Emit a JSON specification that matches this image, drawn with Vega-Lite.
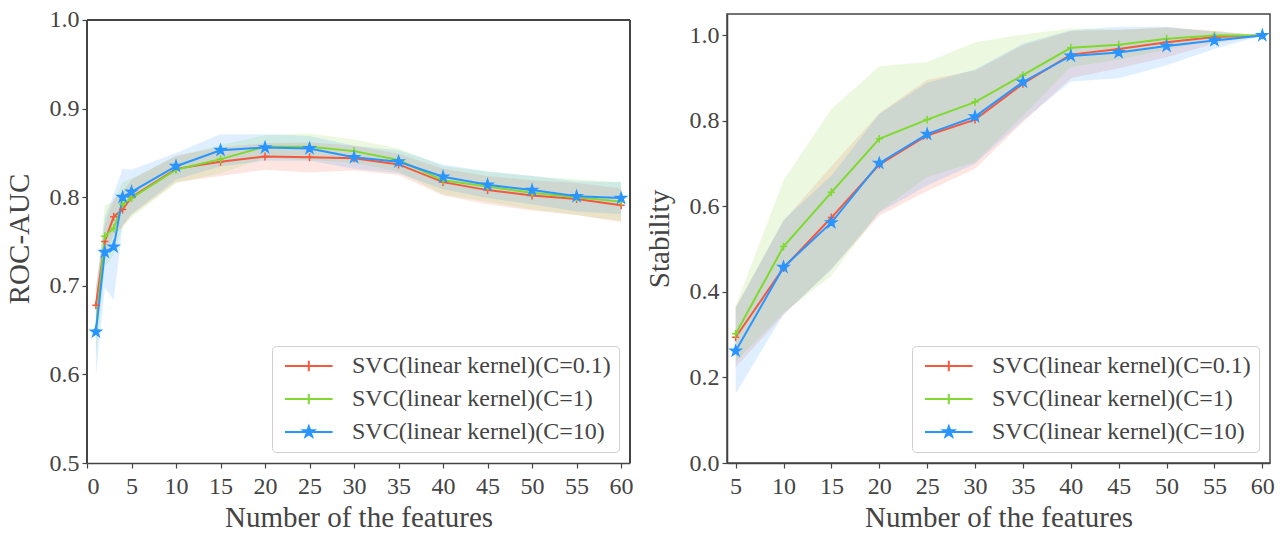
{
  "$schema": "https://vega.github.io/schema/vega-lite/v6.json",
  "background": "white",
  "autosize": {"type": "none"},
  "padding": {"left": 87, "top": 14, "right": 1193, "bottom": 519},
  "spacing": 97,
  "bounds": "flush",
  "datasets": {
    "roc": [
      {"x": 1, "model": "SVC(linear kernel)(C=0.1)", "y": 0.678, "lo": 0.658, "hi": 0.698},
      {"x": 2, "model": "SVC(linear kernel)(C=0.1)", "y": 0.750, "lo": 0.730, "hi": 0.770},
      {"x": 3, "model": "SVC(linear kernel)(C=0.1)", "y": 0.778, "lo": 0.758, "hi": 0.798},
      {"x": 4, "model": "SVC(linear kernel)(C=0.1)", "y": 0.786, "lo": 0.766, "hi": 0.806},
      {"x": 5, "model": "SVC(linear kernel)(C=0.1)", "y": 0.800, "lo": 0.780, "hi": 0.820},
      {"x": 10, "model": "SVC(linear kernel)(C=0.1)", "y": 0.832, "lo": 0.817, "hi": 0.847},
      {"x": 15, "model": "SVC(linear kernel)(C=0.1)", "y": 0.840, "lo": 0.824, "hi": 0.856},
      {"x": 20, "model": "SVC(linear kernel)(C=0.1)", "y": 0.846, "lo": 0.831, "hi": 0.861},
      {"x": 25, "model": "SVC(linear kernel)(C=0.1)", "y": 0.845, "lo": 0.828, "hi": 0.862},
      {"x": 30, "model": "SVC(linear kernel)(C=0.1)", "y": 0.844, "lo": 0.830, "hi": 0.858},
      {"x": 35, "model": "SVC(linear kernel)(C=0.1)", "y": 0.837, "lo": 0.825, "hi": 0.849},
      {"x": 40, "model": "SVC(linear kernel)(C=0.1)", "y": 0.817, "lo": 0.802, "hi": 0.832},
      {"x": 45, "model": "SVC(linear kernel)(C=0.1)", "y": 0.808, "lo": 0.792, "hi": 0.824},
      {"x": 50, "model": "SVC(linear kernel)(C=0.1)", "y": 0.802, "lo": 0.785, "hi": 0.819},
      {"x": 55, "model": "SVC(linear kernel)(C=0.1)", "y": 0.798, "lo": 0.780, "hi": 0.816},
      {"x": 60, "model": "SVC(linear kernel)(C=0.1)", "y": 0.791, "lo": 0.772, "hi": 0.810},
      {"x": 1, "model": "SVC(linear kernel)(C=1)", "y": 0.650, "lo": 0.620, "hi": 0.680},
      {"x": 2, "model": "SVC(linear kernel)(C=1)", "y": 0.756, "lo": 0.721, "hi": 0.791},
      {"x": 3, "model": "SVC(linear kernel)(C=1)", "y": 0.765, "lo": 0.735, "hi": 0.795},
      {"x": 4, "model": "SVC(linear kernel)(C=1)", "y": 0.792, "lo": 0.767, "hi": 0.817},
      {"x": 5, "model": "SVC(linear kernel)(C=1)", "y": 0.799, "lo": 0.777, "hi": 0.821},
      {"x": 10, "model": "SVC(linear kernel)(C=1)", "y": 0.831, "lo": 0.816, "hi": 0.846},
      {"x": 15, "model": "SVC(linear kernel)(C=1)", "y": 0.843, "lo": 0.827, "hi": 0.859},
      {"x": 20, "model": "SVC(linear kernel)(C=1)", "y": 0.857, "lo": 0.844, "hi": 0.870},
      {"x": 25, "model": "SVC(linear kernel)(C=1)", "y": 0.857, "lo": 0.842, "hi": 0.872},
      {"x": 30, "model": "SVC(linear kernel)(C=1)", "y": 0.852, "lo": 0.839, "hi": 0.865},
      {"x": 35, "model": "SVC(linear kernel)(C=1)", "y": 0.842, "lo": 0.829, "hi": 0.855},
      {"x": 40, "model": "SVC(linear kernel)(C=1)", "y": 0.819, "lo": 0.803, "hi": 0.835},
      {"x": 45, "model": "SVC(linear kernel)(C=1)", "y": 0.812, "lo": 0.795, "hi": 0.829},
      {"x": 50, "model": "SVC(linear kernel)(C=1)", "y": 0.805, "lo": 0.786, "hi": 0.824},
      {"x": 55, "model": "SVC(linear kernel)(C=1)", "y": 0.800, "lo": 0.780, "hi": 0.820},
      {"x": 60, "model": "SVC(linear kernel)(C=1)", "y": 0.795, "lo": 0.773, "hi": 0.817},
      {"x": 1, "model": "SVC(linear kernel)(C=10)", "y": 0.648, "lo": 0.598, "hi": 0.698},
      {"x": 2, "model": "SVC(linear kernel)(C=10)", "y": 0.738, "lo": 0.698, "hi": 0.778},
      {"x": 3, "model": "SVC(linear kernel)(C=10)", "y": 0.744, "lo": 0.684, "hi": 0.804},
      {"x": 4, "model": "SVC(linear kernel)(C=10)", "y": 0.800, "lo": 0.768, "hi": 0.832},
      {"x": 5, "model": "SVC(linear kernel)(C=10)", "y": 0.806, "lo": 0.781, "hi": 0.831},
      {"x": 10, "model": "SVC(linear kernel)(C=10)", "y": 0.835, "lo": 0.820, "hi": 0.850},
      {"x": 15, "model": "SVC(linear kernel)(C=10)", "y": 0.853, "lo": 0.835, "hi": 0.871},
      {"x": 20, "model": "SVC(linear kernel)(C=10)", "y": 0.856, "lo": 0.841, "hi": 0.871},
      {"x": 25, "model": "SVC(linear kernel)(C=10)", "y": 0.855, "lo": 0.841, "hi": 0.869},
      {"x": 30, "model": "SVC(linear kernel)(C=10)", "y": 0.845, "lo": 0.832, "hi": 0.858},
      {"x": 35, "model": "SVC(linear kernel)(C=10)", "y": 0.840, "lo": 0.827, "hi": 0.853},
      {"x": 40, "model": "SVC(linear kernel)(C=10)", "y": 0.823, "lo": 0.809, "hi": 0.837},
      {"x": 45, "model": "SVC(linear kernel)(C=10)", "y": 0.814, "lo": 0.799, "hi": 0.829},
      {"x": 50, "model": "SVC(linear kernel)(C=10)", "y": 0.808, "lo": 0.792, "hi": 0.824},
      {"x": 55, "model": "SVC(linear kernel)(C=10)", "y": 0.801, "lo": 0.784, "hi": 0.818},
      {"x": 60, "model": "SVC(linear kernel)(C=10)", "y": 0.799, "lo": 0.781, "hi": 0.817}
    ],
    "stab": [
      {"x": 5, "model": "SVC(linear kernel)(C=0.1)", "y": 0.294, "lo": 0.224, "hi": 0.364},
      {"x": 10, "model": "SVC(linear kernel)(C=0.1)", "y": 0.456, "lo": 0.346, "hi": 0.566},
      {"x": 15, "model": "SVC(linear kernel)(C=0.1)", "y": 0.574, "lo": 0.454, "hi": 0.694},
      {"x": 20, "model": "SVC(linear kernel)(C=0.1)", "y": 0.698, "lo": 0.578, "hi": 0.818},
      {"x": 25, "model": "SVC(linear kernel)(C=0.1)", "y": 0.766, "lo": 0.636, "hi": 0.896},
      {"x": 30, "model": "SVC(linear kernel)(C=0.1)", "y": 0.803, "lo": 0.688, "hi": 0.918},
      {"x": 35, "model": "SVC(linear kernel)(C=0.1)", "y": 0.887, "lo": 0.797, "hi": 0.977},
      {"x": 40, "model": "SVC(linear kernel)(C=0.1)", "y": 0.955, "lo": 0.900, "hi": 1.010},
      {"x": 45, "model": "SVC(linear kernel)(C=0.1)", "y": 0.968, "lo": 0.923, "hi": 1.013},
      {"x": 50, "model": "SVC(linear kernel)(C=0.1)", "y": 0.984, "lo": 0.949, "hi": 1.019},
      {"x": 55, "model": "SVC(linear kernel)(C=0.1)", "y": 0.996, "lo": 0.981, "hi": 1.011},
      {"x": 60, "model": "SVC(linear kernel)(C=0.1)", "y": 1.000, "lo": 1.000, "hi": 1.000},
      {"x": 5, "model": "SVC(linear kernel)(C=1)", "y": 0.302, "lo": 0.237, "hi": 0.367},
      {"x": 10, "model": "SVC(linear kernel)(C=1)", "y": 0.506, "lo": 0.351, "hi": 0.661},
      {"x": 15, "model": "SVC(linear kernel)(C=1)", "y": 0.633, "lo": 0.438, "hi": 0.828},
      {"x": 20, "model": "SVC(linear kernel)(C=1)", "y": 0.758, "lo": 0.588, "hi": 0.928},
      {"x": 25, "model": "SVC(linear kernel)(C=1)", "y": 0.803, "lo": 0.668, "hi": 0.938},
      {"x": 30, "model": "SVC(linear kernel)(C=1)", "y": 0.844, "lo": 0.704, "hi": 0.984},
      {"x": 35, "model": "SVC(linear kernel)(C=1)", "y": 0.907, "lo": 0.812, "hi": 1.002},
      {"x": 40, "model": "SVC(linear kernel)(C=1)", "y": 0.971, "lo": 0.926, "hi": 1.016},
      {"x": 45, "model": "SVC(linear kernel)(C=1)", "y": 0.978, "lo": 0.943, "hi": 1.013},
      {"x": 50, "model": "SVC(linear kernel)(C=1)", "y": 0.992, "lo": 0.967, "hi": 1.017},
      {"x": 55, "model": "SVC(linear kernel)(C=1)", "y": 1.000, "lo": 0.990, "hi": 1.010},
      {"x": 60, "model": "SVC(linear kernel)(C=1)", "y": 1.000, "lo": 1.000, "hi": 1.000},
      {"x": 5, "model": "SVC(linear kernel)(C=10)", "y": 0.262, "lo": 0.162, "hi": 0.362},
      {"x": 10, "model": "SVC(linear kernel)(C=10)", "y": 0.458, "lo": 0.348, "hi": 0.568},
      {"x": 15, "model": "SVC(linear kernel)(C=10)", "y": 0.562, "lo": 0.452, "hi": 0.672},
      {"x": 20, "model": "SVC(linear kernel)(C=10)", "y": 0.701, "lo": 0.586, "hi": 0.816},
      {"x": 25, "model": "SVC(linear kernel)(C=10)", "y": 0.769, "lo": 0.649, "hi": 0.889},
      {"x": 30, "model": "SVC(linear kernel)(C=10)", "y": 0.810, "lo": 0.700, "hi": 0.920},
      {"x": 35, "model": "SVC(linear kernel)(C=10)", "y": 0.891, "lo": 0.801, "hi": 0.981},
      {"x": 40, "model": "SVC(linear kernel)(C=10)", "y": 0.952, "lo": 0.892, "hi": 1.012},
      {"x": 45, "model": "SVC(linear kernel)(C=10)", "y": 0.960, "lo": 0.900, "hi": 1.020},
      {"x": 50, "model": "SVC(linear kernel)(C=10)", "y": 0.975, "lo": 0.930, "hi": 1.020},
      {"x": 55, "model": "SVC(linear kernel)(C=10)", "y": 0.988, "lo": 0.968, "hi": 1.008},
      {"x": 60, "model": "SVC(linear kernel)(C=10)", "y": 1.000, "lo": 1.000, "hi": 1.000}
    ]
  },
  "config": {
    "font": "Liberation Serif",
    "view": {"stroke": "#444444", "strokeWidth": 1.5},
    "axis": {
      "grid": false,
      "domainColor": "#444444",
      "domainWidth": 1.5,
      "tickColor": "#444444",
      "tickSize": 5,
      "tickWidth": 1.2,
      "labelFont": "Liberation Serif",
      "labelFontSize": 24,
      "labelColor": "#444444",
      "labelPadding": 3,
      "titleFont": "Liberation Serif",
      "titleFontSize": 29,
      "titleFontWeight": "normal",
      "titleColor": "#444444"
    },
    "axisX": {"labelPadding": 6, "titlePadding": 5},
    "legend": {
      "orient": "bottom-right",
      "offset": 11,
      "fillColor": "white",
      "strokeColor": "#d0d0d0",
      "cornerRadius": 4,
      "padding": 8,
      "labelFont": "Liberation Serif",
      "labelFontSize": 24,
      "labelColor": "#444444",
      "labelLimit": 0,
      "labelOffset": 48,
      "symbolSize": 196,
      "symbolStrokeWidth": 2,
      "symbolOpacity": 1,
      "rowPadding": 9
    }
  },
  "hconcat": [
    {
      "width": 543,
      "height": 449,
      "data": {"name": "roc"},
      "view": {"stroke": null},
      "encoding": {
        "x": {"field": "x", "type": "quantitative", "scale": {"domain": [0, 61], "nice": false, "zero": false}, "axis": {"values": [0,5,10,15,20,25,30,35,40,45,50,55,60], "title": "Number of the features"}},
        "color": {"field": "model", "type": "nominal", "scale": {"domain": ["SVC(linear kernel)(C=0.1)", "SVC(linear kernel)(C=1)", "SVC(linear kernel)(C=10)"], "range": ["#f4593f", "#7fd92e", "#2a95ff"]}, "legend": {"title": null}}
      },
      "layer": [
        {
          "mark": {"type": "area", "opacity": 0.15},
          "encoding": {
            "y": {"field": "lo", "type": "quantitative", "scale": {"domain": [0.5, 1.00677], "nice": false, "zero": false}, "axis": {"values": [0.5,0.6,0.7,0.8,0.9,1.0], "format": ".1f", "title": "ROC-AUC", "domain": false, "titlePadding": 15}},
            "y2": {"field": "hi"}
          }
        },
        {
          "mark": {"type": "line", "strokeWidth": 2},
          "encoding": {"y": {"field": "y", "type": "quantitative"}}
        },
        {
          "mark": {"type": "point", "filled": true, "opacity": 0, "size": 49},
          "encoding": {
            "y": {"field": "y", "type": "quantitative"},
            "stroke": {"field": "model", "type": "nominal", "scale": {"domain": ["SVC(linear kernel)(C=0.1)", "SVC(linear kernel)(C=1)", "SVC(linear kernel)(C=10)"], "range": ["#f4593f", "#7fd92e", "#2a95ff"]}, "legend": {"title": null}},
            "shape": {"field": "model", "type": "nominal", "scale": {"domain": ["SVC(linear kernel)(C=0.1)", "SVC(linear kernel)(C=1)", "SVC(linear kernel)(C=10)"], "range": ["M-1,0H5.8M2.4,-0.75V0.75", "M-1,0H5.8M2.4,-0.75V0.75", "M-1,0H5.8M2.4,-0.8L2.59,-0.26L3.16,-0.26L2.7,0.09L2.87,0.64L2.4,0.3L1.93,0.64L2.1,0.09L1.64,-0.26L2.21,-0.26Z"]}, "legend": {"title": null}}
          }
        },
        {
          "mark": {"type": "point", "filled": true, "opacity": 1, "size": 52, "strokeWidth": 1.5},
          "encoding": {
            "y": {"field": "y", "type": "quantitative"},
            "color": {"field": "model", "type": "nominal", "legend": null},
            "stroke": {"field": "model", "type": "nominal", "legend": null},
            "shape": {"condition": {"test": "datum.model === 'SVC(linear kernel)(C=10)'", "value": "M0,-1.5L0.34,-0.46L1.43,-0.46L0.54,0.18L0.88,1.21L0,0.57L-0.88,1.21L-0.54,0.18L-1.43,-0.46L-0.34,-0.46Z"}, "value": "M-1,0H1M0,-1.1V1.1"}
          }
        },
        {"mark": {"type": "rule", "color": "#444444", "strokeWidth": 1.5}, "encoding": {"y": {"datum": 1.0}, "x": {"datum": 0}, "x2": {"datum": 61}, "color": {"value": "#444444"}}},
        {"mark": {"type": "rule", "color": "#444444", "strokeWidth": 1.5}, "encoding": {"x": {"datum": 61}, "y": {"datum": 0.5}, "y2": {"datum": 1.0}, "color": {"value": "#444444"}}},
        {"mark": {"type": "rule", "color": "#444444", "strokeWidth": 1.5}, "encoding": {"x": {"datum": 0}, "y": {"datum": 0.5}, "y2": {"datum": 1.0}, "color": {"value": "#444444"}}}
      ]
    },
    {
      "width": 543,
      "height": 449,
      "data": {"name": "stab"},
      "encoding": {
        "x": {"field": "x", "type": "quantitative", "scale": {"domain": [4.1, 60.8], "nice": false, "zero": false}, "axis": {"values": [5,10,15,20,25,30,35,40,45,50,55,60], "title": "Number of the features"}},
        "color": {"field": "model", "type": "nominal", "scale": {"domain": ["SVC(linear kernel)(C=0.1)", "SVC(linear kernel)(C=1)", "SVC(linear kernel)(C=10)"], "range": ["#f4593f", "#7fd92e", "#2a95ff"]}, "legend": {"title": null}}
      },
      "layer": [
        {
          "mark": {"type": "area", "opacity": 0.15},
          "encoding": {
            "y": {"field": "lo", "type": "quantitative", "scale": {"domain": [0, 1.05], "nice": false}, "axis": {"values": [0,0.2,0.4,0.6,0.8,1.0], "format": ".1f", "title": "Stability", "titlePadding": 15}},
            "y2": {"field": "hi"}
          }
        },
        {
          "mark": {"type": "line", "strokeWidth": 2},
          "encoding": {"y": {"field": "y", "type": "quantitative"}}
        },
        {
          "mark": {"type": "point", "filled": true, "opacity": 0, "size": 49},
          "encoding": {
            "y": {"field": "y", "type": "quantitative"},
            "stroke": {"field": "model", "type": "nominal", "scale": {"domain": ["SVC(linear kernel)(C=0.1)", "SVC(linear kernel)(C=1)", "SVC(linear kernel)(C=10)"], "range": ["#f4593f", "#7fd92e", "#2a95ff"]}, "legend": {"title": null}},
            "shape": {"field": "model", "type": "nominal", "scale": {"domain": ["SVC(linear kernel)(C=0.1)", "SVC(linear kernel)(C=1)", "SVC(linear kernel)(C=10)"], "range": ["M-1,0H5.8M2.4,-0.75V0.75", "M-1,0H5.8M2.4,-0.75V0.75", "M-1,0H5.8M2.4,-0.8L2.59,-0.26L3.16,-0.26L2.7,0.09L2.87,0.64L2.4,0.3L1.93,0.64L2.1,0.09L1.64,-0.26L2.21,-0.26Z"]}, "legend": {"title": null}}
          }
        },
        {
          "mark": {"type": "point", "filled": true, "opacity": 1, "size": 52, "strokeWidth": 1.5},
          "encoding": {
            "y": {"field": "y", "type": "quantitative"},
            "color": {"field": "model", "type": "nominal", "legend": null},
            "stroke": {"field": "model", "type": "nominal", "legend": null},
            "shape": {"condition": {"test": "datum.model === 'SVC(linear kernel)(C=10)'", "value": "M0,-1.5L0.34,-0.46L1.43,-0.46L0.54,0.18L0.88,1.21L0,0.57L-0.88,1.21L-0.54,0.18L-1.43,-0.46L-0.34,-0.46Z"}, "value": "M-1,0H1M0,-1.1V1.1"}
          }
        }
      ]
    }
  ],
  "resolve": {"scale": {"x": "independent", "y": "independent", "color": "independent", "stroke": "independent", "shape": "independent"}, "legend": {"color": "independent", "stroke": "independent", "shape": "independent"}}
}
